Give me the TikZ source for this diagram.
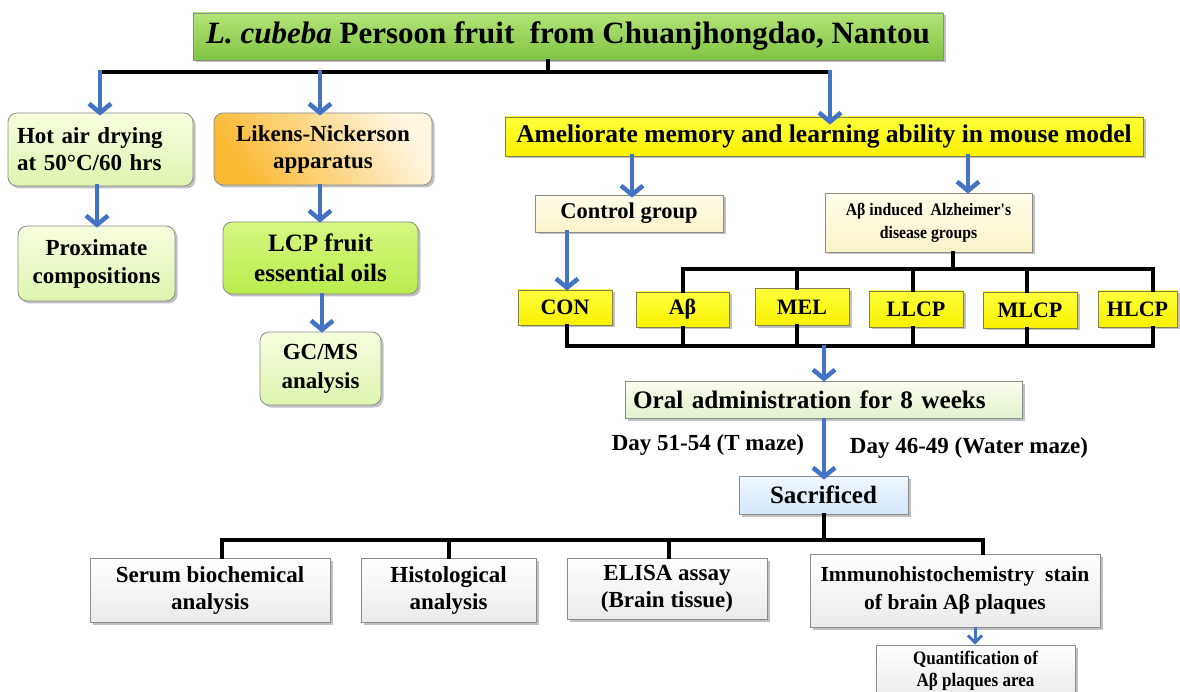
\documentclass[tikz,border=0pt]{standalone}
\usepackage{fontspec}
\setmainfont{Liberation Serif}
\newfontfamily\cf{Liberation Serif}[FakeStretch=0.9]
\usetikzlibrary{arrows.meta,shadows,calc}
\definecolor{arrowblue}{RGB}{68,114,196}
\definecolor{titleA}{RGB}{178,228,120}
\definecolor{titleB}{RGB}{128,196,66}
\definecolor{lgA}{RGB}{246,253,222}
\definecolor{lgB}{RGB}{222,245,175}
\definecolor{orA}{RGB}{250,185,50}
\definecolor{orB}{RGB}{255,246,225}
\definecolor{lcpA}{RGB}{215,248,130}
\definecolor{lcpB}{RGB}{185,235,75}
\definecolor{yelA}{RGB}{255,255,60}
\definecolor{yelB}{RGB}{250,240,0}
\definecolor{crA}{RGB}{255,253,235}
\definecolor{crB}{RGB}{250,243,200}
\definecolor{orlA}{RGB}{250,253,240}
\definecolor{orlB}{RGB}{225,242,205}
\definecolor{blA}{RGB}{240,248,255}
\definecolor{blB}{RGB}{210,230,248}
\newcommand{\fs}[2]{\fontsize{#1}{#2}\selectfont\bfseries}
\tikzset{
  box/.style={draw=black!45, line width=0.8pt, align=center, inner sep=2pt,
    drop shadow={shadow xshift=2.5pt, shadow yshift=-2.5pt, fill=black!40, opacity=0.6}},
  rbox/.style={box, rounded corners=9pt},
  ybox/.style={box, draw=black!55!yellow, top color=yelA, bottom color=yelB, font=\fs{22}{24}},
  wbox/.style={box, top color=white, bottom color=black!8, font=\fs{23}{27}},
  barrow/.style={draw=arrowblue, line width=4.5pt, -{Straight Barb[length=9pt,width=22pt]}},
  brk/.style={line width=3.2pt, black, line cap=rect}
}
\begin{document}
\begin{tikzpicture}[x=1pt,y=-1pt]
\useasboundingbox (0,0) rectangle (1180,692);
\clip (0,0) rectangle (1180,692);
\fill[white] (0,0) rectangle (1180,692);

% title
\node[box, top color=titleA, bottom color=titleB, minimum width=750pt, minimum height=47pt, font=\fs{31}{34}]
  (title) at (568,36.5) {\textit{L. cubeba} Persoon fruit\ \ from Chuanjhongdao, Nantou};

% left column
\node[rbox, top color=lgA, bottom color=lgB, minimum width=185pt, minimum height=73pt, text width=167pt, inner xsep=9pt, align=left, font=\fs{23}{27}]
  (hot) at (100.5,149.5) {Hot air drying\\at 50°C/60 hrs};
\node[rbox, top color=lgA, bottom color=lgB, minimum width=157pt, minimum height=75pt, font=\fs{23}{28}]
  (prox) at (96.5,263.5) {Proximate\\compositions};
\node[rbox, left color=orA, right color=orB, shading angle=125, minimum width=218pt, minimum height=72pt, font=\fs{23}{27}]
  (likens) at (323,149) {Likens-Nickerson\\apparatus};
\node[rbox, top color=lcpA, bottom color=lcpB, minimum width=195pt, minimum height=72pt, font=\fs{25}{30}]
  (lcp) at (320.5,258) {LCP fruit\\essential oils};
\node[rbox, top color=lgA, bottom color=lgB, minimum width=121pt, minimum height=73pt, font=\fs{23}{29}]
  (gcms) at (320.5,368.5) {GC/MS\\analysis};

% right part
\node[ybox, minimum width=638pt, minimum height=39pt, font=\fs{25.5}{28}]
  (amel) at (824,136.5) {Ameliorate memory and learning ability in mouse model};
\node[box, top color=crA, bottom color=crB, minimum width=188pt, minimum height=37pt, font=\fs{22.5}{25}]
  (ctrl) at (629,213.5) {Control group};
\node[box, top color=crA, bottom color=crB, minimum width=207pt, minimum height=59pt, font=\cf\fs{17.5}{23}]
  (abind) at (928.5,222.5) {Aβ induced\ \ Alzheimer's\\disease groups};

\node[ybox, minimum width=94pt, minimum height=35pt] (con) at (565,307.5) {CON};
\node[ybox, minimum width=93pt, minimum height=35pt] (ab) at (682.5,309.5) {Aβ};
\node[ybox, minimum width=94pt, minimum height=37pt] (mel) at (802,307) {MEL};
\node[ybox, minimum width=94pt, minimum height=36pt] (llcp) at (916,309) {LLCP};
\node[ybox, minimum width=94pt, minimum height=36pt] (mlcp) at (1030,310) {MLCP};
\node[ybox, minimum width=79pt, minimum height=36pt] (hlcp) at (1137.5,309) {HLCP};

\node[box, top color=orlA, bottom color=orlB, minimum width=397pt, minimum height=37pt, text width=381pt, align=left, inner xsep=8pt, font=\fs{25.2}{28}]
  (oral) at (823.5,399.5) {Oral administration for 8 weeks};
\node[box, top color=blA, bottom color=blB, minimum width=169pt, minimum height=38pt, font=\fs{25}{28}]
  (sac) at (823.5,495) {Sacrificed};

\node[font=\fs{23}{25}] (lblT) at (708,445) {Day 51-54 (T maze)};
\node[font=\fs{23}{25}] (lblW) at (969,448) {Day 46-49 (Water maze)};

% bottom boxes
\node[wbox, minimum width=240pt, minimum height=64pt] (serum) at (210,590) {Serum biochemical\\analysis};
\node[wbox, minimum width=175pt, minimum height=64pt] (hist) at (448.5,590) {Histological\\analysis};
\node[wbox, minimum width=200pt, minimum height=61pt] (elisa) at (667,588.5) {ELISA assay\\(Brain tissue)};
\node[wbox, minimum width=290pt, minimum height=73pt, font=\fs{21.5}{28}] (immuno) at (955,590.5) {Immunohistochemistry\ \ stain\\of brain Aβ plaques};
\node[wbox, minimum width=199pt, minimum height=52pt, font=\cf\fs{19}{22}] (quant) at (975.5,671) {Quantification of\\Aβ plaques area};

% brackets
\coordinate (j0) at (548,72);
\coordinate (jL) at (100,72);
\coordinate (jM) at (320,72);
\coordinate (jR) at (830,72);
\draw[brk] (title.south -| j0) -- (j0);
\draw[brk] (jL) -- (jR);

\coordinate (ka) at (953,269);
\coordinate (k1) at (683,269);
\coordinate (k2) at (797,269);
\coordinate (k3) at (913,269);
\coordinate (k4) at (1027,269);
\coordinate (k5) at (1153,269);
\draw[brk] (abind.south -| ka) -- (ka);
\draw[brk] (k1) -- (k5);
\draw[brk] (k1) -- (k1 |- ab.north);
\draw[brk] (k2) -- (k2 |- mel.north);
\draw[brk] (k3) -- (k3 |- llcp.north);
\draw[brk] (k4) -- (k4 |- mlcp.north);
\draw[brk] (k5) -- (k5 |- hlcp.north);

\coordinate (m0) at (567,346);
\coordinate (m1) at (683,346);
\coordinate (m2) at (797,346);
\coordinate (m3) at (913,346);
\coordinate (m4) at (1027,346);
\coordinate (m5) at (1153,346);
\coordinate (mc) at (824,346);
\draw[brk] (m0) -- (m5);
\draw[brk] (m0 |- con.south) -- (m0);
\draw[brk] (m1 |- ab.south) -- (m1);
\draw[brk] (m2 |- mel.south) -- (m2);
\draw[brk] (m3 |- llcp.south) -- (m3);
\draw[brk] (m4 |- mlcp.south) -- (m4);
\draw[brk] (m5 |- hlcp.south) -- (m5);

\coordinate (n0) at (824,540);
\coordinate (n1) at (222,540);
\coordinate (n2) at (449,540);
\coordinate (n3) at (669,540);
\coordinate (n4) at (983,540);
\draw[brk] (sac.south -| n0) -- (n0);
\draw[brk] (n1) -- (n4);
\draw[brk] (n1) -- (n1 |- serum.north);
\draw[brk] (n2) -- (n2 |- hist.north);
\draw[brk] (n3) -- (n3 |- elisa.north);
\draw[brk] (n4) -- (n4 |- immuno.north);

% blue arrows
\draw[barrow] ([yshift=2pt]jL) -- ([yshift=-3pt]jL |- hot.north);
\draw[barrow] ([yshift=2pt]jM) -- ([yshift=-3pt]jM |- likens.north);
\draw[barrow] ([yshift=2pt]jR) -- ([yshift=-8pt]jR |- amel.north);
\coordinate (xh) at (97,0);
\draw[barrow] ([yshift=2pt]xh |- hot.south) -- ([yshift=-2pt]xh |- prox.north);
\coordinate (xl) at (320,0);
\draw[barrow] ([yshift=1pt]xl |- likens.south) -- ([yshift=-1pt]xl |- lcp.north);
\coordinate (xg) at (322,0);
\draw[barrow] ([yshift=1pt]xg |- lcp.south) -- ([yshift=-1pt]xg |- gcms.north);
\coordinate (xc) at (632,0);
\draw[barrow] ([yshift=2pt]xc |- amel.south) -- ([yshift=-3pt]xc |- ctrl.north);
\coordinate (xa) at (968,0);
\draw[barrow] ([yshift=2pt]xa |- amel.south) -- ([yshift=-1pt]xa |- abind.north);
\coordinate (xn) at (567,0);
\draw[barrow] ([yshift=2pt]xn |- ctrl.south) -- ([yshift=-1pt]xn |- con.north);
\draw[barrow] ([yshift=1pt]mc) -- ([yshift=-1pt]mc |- oral.north);
\draw[barrow] (oral.south -| mc) -- ([yshift=-4pt]sac.north -| mc);
\coordinate (xq) at (975,0);
\draw[barrow, line width=3pt, -{Straight Barb[length=7pt,width=14pt]}] (xq |- immuno.south) -- (xq |- quant.north);
\end{tikzpicture}
\end{document}
